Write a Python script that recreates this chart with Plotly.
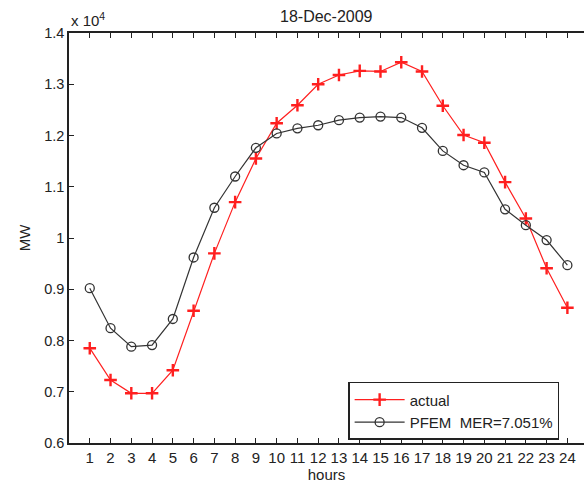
import plotly.graph_objects as go

hours = list(range(1, 25))
actual_mw = [7850, 7230, 6970, 6970, 7420, 8580, 9700, 10700, 11550, 12240,
             12590, 13000, 13180, 13260, 13250, 13430, 13250, 12580, 12010, 11860,
             11090, 10380, 9410, 8640]
pfem_mw = [9020, 8240, 7880, 7910, 8420, 9620, 10590, 11200, 11760, 12040,
           12140, 12200, 12300, 12350, 12370, 12350, 12150, 11700, 11420, 11280,
           10560, 10250, 9960, 9470]
x_ticks = hours
y_ticks = [0.6, 0.7, 0.8, 0.9, 1.0, 1.1, 1.2, 1.3, 1.4]
y_tick_text = ["0.6", "0.7", "0.8", "0.9", "1", "1.1", "1.2", "1.3", "1.4"]
scale = 1e4

FONT = "Liberation Sans, Arial, sans-serif"
TXT = "#222222"

fig = go.Figure()
fig.add_trace(go.Scatter(
    x=hours, y=[v / scale for v in actual_mw], name="actual",
    mode="lines+markers",
    line=dict(color="#ff1f1f", width=1.2),
    marker=dict(symbol="cross-thin", size=9, color="#ff1f1f",
                line=dict(color="#ff1f1f", width=2.4)),
))
fig.add_trace(go.Scatter(
    x=hours, y=[v / scale for v in pfem_mw], name="PFEM  MER=7.051%",
    mode="lines+markers",
    line=dict(color="#333333", width=1.2),
    marker=dict(symbol="circle-open", size=9, color="#333333",
                line=dict(color="#333333", width=1.3)),
))

fig.update_layout(
    width=584, height=485,
    margin=dict(l=69, r=0, t=33, b=42),
    paper_bgcolor="white", plot_bgcolor="white",
    font=dict(family=FONT, size=14, color=TXT),
    showlegend=True,
    legend=dict(x=0.542, y=0.149, xanchor="left", yanchor="top",
                bgcolor="white", bordercolor="#222222", borderwidth=1.5,
                font=dict(family=FONT, size=15, color=TXT),
                itemwidth=50, tracegroupgap=0),
    annotations=[
        dict(text="18-Dec-2009", xref="paper", yref="paper", x=0.5, y=1.0,
             xanchor="center", yanchor="bottom", yshift=6, showarrow=False,
             font=dict(family=FONT, size=16, color=TXT)),
        dict(text="x 10<sup>4</sup>", xref="paper", yref="paper", x=0.0, y=1.0,
             xanchor="left", yanchor="bottom", yshift=2, showarrow=False,
             font=dict(family=FONT, size=15, color=TXT)),
    ],
)
fig.update_xaxes(
    range=[0, 24.8], tickvals=x_ticks, ticktext=[str(h) for h in x_ticks],
    ticks="inside", ticklen=5, tickwidth=1.2, tickcolor="#222222",
    showline=True, linecolor="#222222", linewidth=1.5, mirror="ticks",
    showgrid=False, zeroline=False,
    tickfont=dict(family=FONT, size=15, color=TXT),
    title=dict(text="hours", standoff=0, font=dict(family=FONT, size=15, color=TXT)),
)
fig.update_yaxes(
    range=[0.6, 1.4], tickvals=y_ticks, ticktext=y_tick_text,
    ticks="inside", ticklen=5, tickwidth=1.2, tickcolor="#222222",
    showline=True, linecolor="#222222", linewidth=1.5, mirror=False,
    showgrid=False, zeroline=False,
    tickfont=dict(family=FONT, size=14.5, color=TXT),
    title=dict(text="MW", standoff=10, font=dict(family=FONT, size=15, color=TXT)),
)

fig.write_html("out.html")
